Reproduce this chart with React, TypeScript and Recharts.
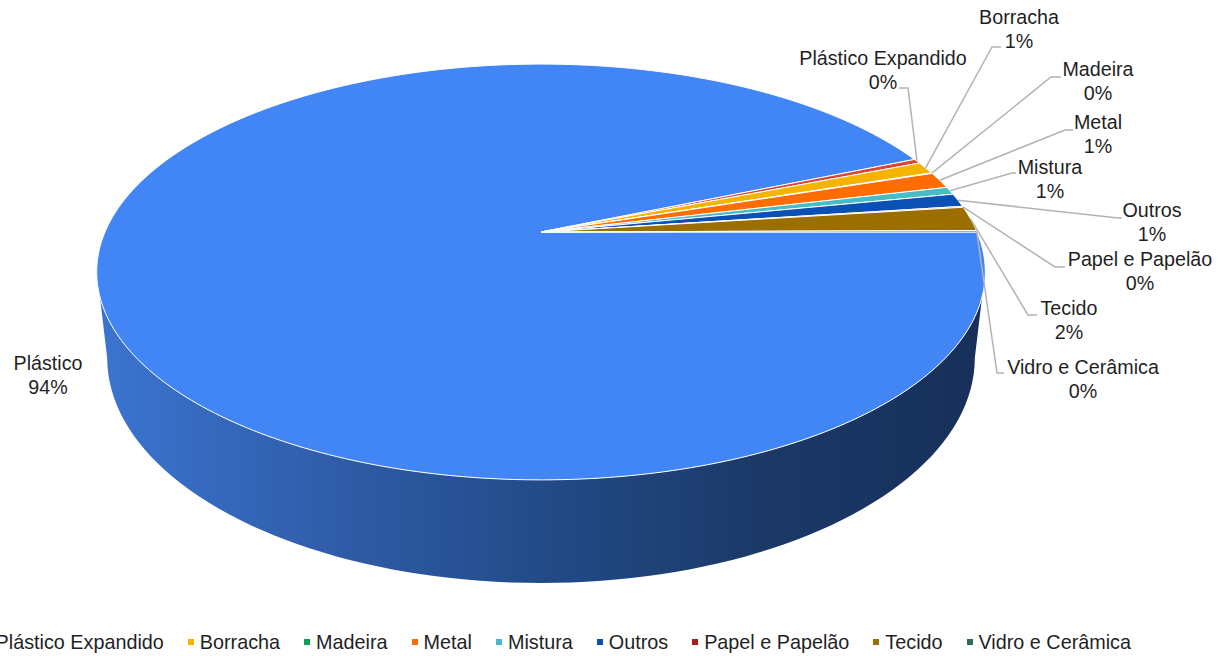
import React from 'react';
import { PieChart, Pie, Legend } from 'recharts';

const materials = ['Plástico', 'Plástico Expandido', 'Borracha', 'Madeira', 'Metal', 'Mistura', 'Outros', 'Papel e Papelão', 'Tecido', 'Vidro e Cerâmica'];
const shares = [93.63, 0.36, 0.94, 0.05, 1.28, 0.6, 1.04, 0.08, 1.9, 0.12];
const palette = ['#4285f4', '#db4437', '#f4b400', '#0f9d58', '#ff6d00', '#46bdc6', '#0b50b5', '#a81c1c', '#9a6f00', '#2e6b50'];

const rows = materials.map((name, i) => ({ name, value: shares[i], fill: palette[i] }));

// Label placement: text centre, first-line baseline, and the elbow and end of each leader.
const labelPlacement: Record<string, { x: number; y: number; elbow?: [number, number]; end?: [number, number] }> = {
  'Plástico': { x: 48, y: 370 },
  'Plástico Expandido': { x: 883, y: 65, elbow: [908, 88], end: [899, 88] },
  'Borracha': { x: 1019, y: 24, elbow: [992, 47], end: [1001, 47] },
  'Madeira': { x: 1098, y: 76, elbow: [1051, 77], end: [1061, 77] },
  'Metal': { x: 1098, y: 129, elbow: [1065, 130], end: [1073, 130] },
  'Mistura': { x: 1050, y: 174, elbow: [1012, 173], end: [1016, 173] },
  'Outros': { x: 1152, y: 217, elbow: [1118, 218], end: [1122, 218] },
  'Papel e Papelão': { x: 1140, y: 266, elbow: [1055, 267], end: [1065, 267] },
  'Tecido': { x: 1069, y: 315, elbow: [1028, 315], end: [1037, 315] },
  'Vidro e Cerâmica': { x: 1083, y: 374, elbow: [997, 373], end: [1004, 373] },
};

const FONT = '"Liberation Sans", Arial, sans-serif';
const TILT = 0.4592;
const PERSPECTIVE = 0.1923;
// Lower rim of the disc, relative to the pie radius.
const BASE = { rx: 0.995, ry: 0.516, dy: 0.289 };
const WALL_FROM = -17.8;
const WALL_TO = -162.2;

// Maps a polar point on the disc to the screen through a tilted perspective view.
const toScreen = (cx: number, cy: number, r: number, deg: number): [number, number] => {
  const a = (deg * Math.PI) / 180;
  const u = Math.cos(a);
  const v = Math.sin(a);
  const w = 1 + PERSPECTIVE * v;
  return [cx + (r * u) / w, cy - (r * TILT * v) / w];
};

const rimPoints = (cx: number, cy: number, r: number, from: number, to: number) => {
  const steps = Math.max(2, Math.ceil(Math.abs(to - from)));
  const pts: [number, number][] = [];
  for (let i = 0; i <= steps; i++) pts.push(toScreen(cx, cy, r, from + ((to - from) * i) / steps));
  return pts;
};

const pathOf = (pts: [number, number][]) => pts.map((p, i) => `${i ? 'L' : 'M'}${p[0].toFixed(2)} ${p[1].toFixed(2)}`).join(' ');

const DiscSlice = (props: any) => {
  const { cx, cy, outerRadius: r, startAngle, endAngle, fill } = props;
  const rim = rimPoints(cx, cy, r, startAngle, endAngle);
  const spansFront = startAngle >= WALL_FROM && endAngle <= WALL_TO;
  let wall: React.ReactNode = null;
  if (spansFront) {
    const top = rimPoints(cx, cy, r, WALL_FROM, WALL_TO);
    const bottom: [number, number][] = [];
    for (let d = 180; d >= 0; d -= 2) {
      const a = (d * Math.PI) / 180;
      bottom.push([cx + BASE.rx * r * Math.cos(a), cy + BASE.dy * r + BASE.ry * r * Math.sin(a)]);
    }
    wall = (
      <>
        <defs>
          <linearGradient id="wallShade" gradientUnits="userSpaceOnUse" x1={cx - r} y1={0} x2={cx + r} y2={0}>
            <stop offset="0" stopColor="#3b74cf" />
            <stop offset="0.27" stopColor="#2f5ca8" />
            <stop offset="0.5" stopColor="#234b88" />
            <stop offset="0.75" stopColor="#1b3968" />
            <stop offset="1" stopColor="#16305a" />
          </linearGradient>
        </defs>
        <path d={`${pathOf([...top, ...bottom])} Z`} fill="url(#wallShade)" />
      </>
    );
  }
  return (
    <g>
      {wall}
      <path d={`M${cx} ${cy} ${pathOf(rim).replace(/^M/, 'L')} Z`} fill={fill} stroke="#ffffff" strokeWidth={1} strokeLinejoin="round" />
    </g>
  );
};

const SliceLabel = (props: any) => {
  const { cx, cy, outerRadius: r, midAngle, percent, name } = props;
  const place = labelPlacement[name];
  const start = toScreen(cx, cy, r, midAngle);
  return (
    <g>
      {place.elbow && place.end && (
        <polyline
          points={`${start[0]},${start[1]} ${place.elbow[0]},${place.elbow[1]} ${place.end[0]},${place.end[1]}`}
          fill="none"
          stroke="#b3b3b3"
          strokeWidth={1.5}
        />
      )}
      <text textAnchor="middle" fontFamily={FONT} fontSize={19.7} fill="#1f1f1f">
        <tspan x={place.x} y={place.y}>{name}</tspan>
        <tspan x={place.x} y={place.y + 23.5}>{`${Math.round(percent * 100)}%`}</tspan>
      </text>
    </g>
  );
};

const LegendRow = ({ payload }: any) => (
  <div style={{ display: 'flex', justifyContent: 'flex-end', alignItems: 'center', whiteSpace: 'nowrap', fontFamily: FONT, fontSize: 19.8, color: '#1f1f1f', gap: 24, lineHeight: '24px' }}>
    {(payload ?? []).map((item: any) => (
      <span key={item.value} style={{ display: 'inline-flex', alignItems: 'center', gap: 6, flex: 'none' }}>
        <span style={{ width: 6, height: 6, background: item.color ?? item.payload?.fill, display: 'inline-block' }} />
        {item.value}
      </span>
    ))}
  </div>
);

export default function App() {
  return (
    <div style={{ position: 'absolute', left: 0, top: 0, width: 1218, height: 656, background: '#ffffff' }}>
      <PieChart width={1218} height={656} margin={{ top: 0, right: 0, bottom: 0, left: 0 }}>
        <Pie
          data={rows}
          dataKey="value"
          nameKey="name"
          cx={541}
          cy={232}
          innerRadius={0}
          outerRadius={436}
          startAngle={0}
          endAngle={-360}
          isAnimationActive={false}
          shape={DiscSlice}
          label={SliceLabel}
          labelLine={false}
        />
        <Legend content={LegendRow} itemSorter={null} wrapperStyle={{ position: 'absolute', left: 0, top: 630, width: 1131, height: 24 }} />
      </PieChart>
    </div>
  );
}
